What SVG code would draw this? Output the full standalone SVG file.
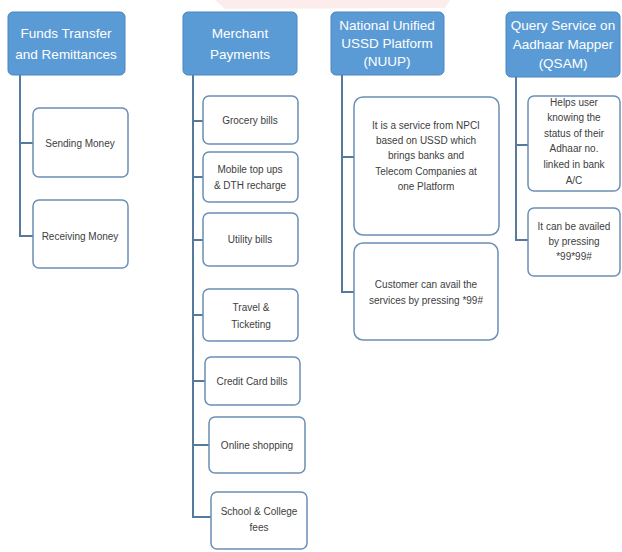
<svg xmlns="http://www.w3.org/2000/svg" width="622" height="552" viewBox="0 0 622 552">
<style>
.hd{fill:#5b9bd5;stroke:#4a86c0;stroke-width:1}
.hdt{font-family:"Liberation Sans",Arial,sans-serif;font-size:13.5px;fill:#ffffff;text-anchor:middle}
.ch{fill:#ffffff;stroke:#6b8fb5;stroke-width:1.5}
.cht{font-family:"Liberation Sans",Arial,sans-serif;font-size:10px;fill:#404040;text-anchor:middle}
.ln{fill:none;stroke:#56799e;stroke-width:2}
</style>
<rect width="622" height="552" fill="#ffffff"/>
<path d="M215 0 L450 0 L445 8 L225 9 Z" fill="#f6c8c8" opacity="0.35"/>
<g id="connectors">
<path class="ln" d="M20 75 V236 H33 M20 143 H33"/>
<path class="ln" d="M193 75 V517 H211 M193 121 H203 M193 177 H203 M193 240 H203 M193 315 H203 M193 381 H205 M193 445 H209"/>
<path class="ln" d="M342 75 V292 H354 M342 157 H354"/>
<path class="ln" d="M516 77 V240 H528 M516 145 H528"/>
</g>
<g id="funds">
<rect class="hd" x="8" y="12" width="117" height="63" rx="5"/>
<text class="hdt" x="66" y="38">Funds Transfer</text>
<text class="hdt" x="66" y="59">and Remittances</text>
</g>
<g id="sending">
<rect class="ch" x="33" y="108" width="95" height="69" rx="6"/>
<text class="cht" x="80" y="147">Sending Money</text>
</g>
<g id="receiving">
<rect class="ch" x="33" y="200" width="95" height="68" rx="6"/>
<text class="cht" x="80" y="240">Receiving Money</text>
</g>
<g id="merchant">
<rect class="hd" x="183" y="12" width="114" height="63" rx="5"/>
<text class="hdt" x="240" y="38">Merchant</text>
<text class="hdt" x="240" y="59">Payments</text>
</g>
<g id="grocery">
<rect class="ch" x="203" y="96" width="95" height="48" rx="6"/>
<text class="cht" x="250" y="124">Grocery bills</text>
</g>
<g id="mobile">
<rect class="ch" x="203" y="152" width="95" height="50" rx="6"/>
<text class="cht" x="250" y="173">Mobile top ups</text>
<text class="cht" x="250" y="189">&amp; DTH recharge</text>
</g>
<g id="utility">
<rect class="ch" x="203" y="213" width="95" height="53" rx="6"/>
<text class="cht" x="250" y="243">Utility bills</text>
</g>
<g id="travel">
<rect class="ch" x="203" y="289" width="95" height="52" rx="6"/>
<text class="cht" x="251" y="311">Travel &amp;</text>
<text class="cht" x="251" y="328">Ticketing</text>
</g>
<g id="credit">
<rect class="ch" x="205" y="357" width="95" height="48" rx="6"/>
<text class="cht" x="252" y="385">Credit Card bills</text>
</g>
<g id="online">
<rect class="ch" x="209" y="417" width="96" height="56" rx="6"/>
<text class="cht" x="257" y="449">Online shopping</text>
</g>
<g id="school">
<rect class="ch" x="211" y="492" width="96" height="57" rx="6"/>
<text class="cht" x="259" y="515">School &amp; College</text>
<text class="cht" x="259" y="531">fees</text>
</g>
<g id="nuup">
<rect class="hd" x="331" y="12" width="113" height="63" rx="5"/>
<text class="hdt" x="387" y="30">National Unified</text>
<text class="hdt" x="387" y="48">USSD Platform</text>
<text class="hdt" x="387" y="66">(NUUP)</text>
</g>
<g id="nuup1">
<rect class="ch" x="354" y="97" width="145" height="138" rx="9"/>
<text class="cht" x="426" y="129">It is a service from NPCI</text>
<text class="cht" x="426" y="144">based on USSD which</text>
<text class="cht" x="426" y="159">brings  banks and</text>
<text class="cht" x="426" y="175">Telecom Companies at</text>
<text class="cht" x="426" y="190">one Platform</text>
</g>
<g id="nuup2">
<rect class="ch" x="354" y="243" width="144" height="97" rx="9"/>
<text class="cht" x="426" y="288">Customer can avail the</text>
<text class="cht" x="426" y="304">services by pressing *99#</text>
</g>
<g id="qsam">
<rect class="hd" x="506" y="12" width="114" height="65" rx="5"/>
<text class="hdt" x="563" y="30">Query Service on</text>
<text class="hdt" x="563" y="49">Aadhaar Mapper</text>
<text class="hdt" x="563" y="68">(QSAM)</text>
</g>
<g id="qsam1">
<rect class="ch" x="528" y="96" width="92" height="95" rx="6"/>
<text class="cht" x="574" y="106">Helps user</text>
<text class="cht" x="574" y="121">knowing the</text>
<text class="cht" x="574" y="137">status of their</text>
<text class="cht" x="574" y="152">Adhaar no.</text>
<text class="cht" x="574" y="168">linked in bank</text>
<text class="cht" x="574" y="184">A/C</text>
</g>
<g id="qsam2">
<rect class="ch" x="528" y="208" width="92" height="68" rx="6"/>
<text class="cht" x="574" y="230">It can be availed</text>
<text class="cht" x="574" y="245">by pressing</text>
<text class="cht" x="574" y="260">*99*99#</text>
</g>
</svg>
